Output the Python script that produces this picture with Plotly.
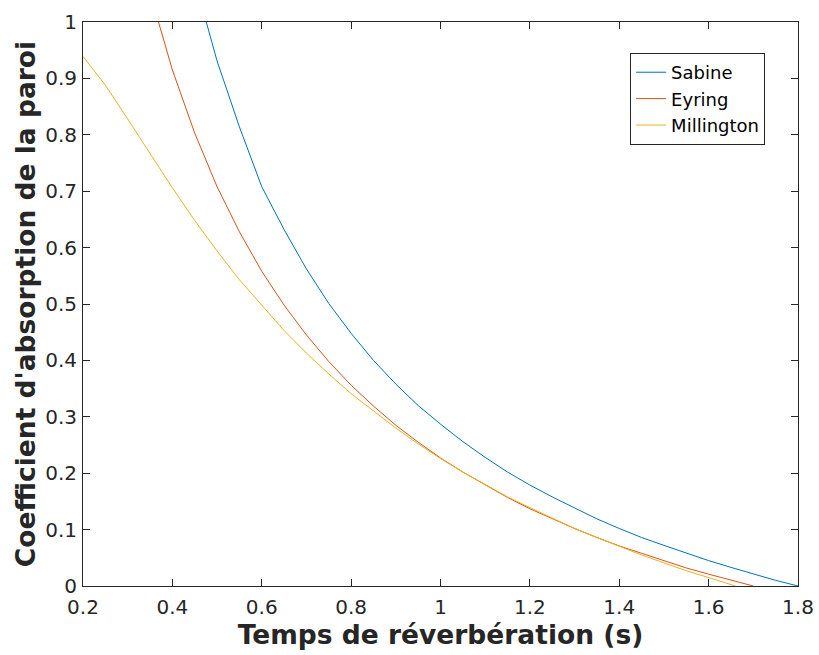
import plotly.graph_objects as go

# Reverberation time (s)
t_sabine = [0.45, 0.50, 0.55, 0.60, 0.65, 0.70, 0.75, 0.80, 0.85, 0.90, 0.95, 1.00,
            1.05, 1.10, 1.15, 1.20, 1.25, 1.30, 1.35, 1.40, 1.45, 1.50, 1.55, 1.60,
            1.65, 1.70, 1.75, 1.80]
a_sabine = [1.074, 0.931, 0.814, 0.708, 0.632, 0.562, 0.501, 0.448, 0.400, 0.358, 0.320, 0.287,
            0.256, 0.228, 0.202, 0.179, 0.158, 0.138, 0.119, 0.102, 0.086, 0.072, 0.058, 0.045,
            0.033, 0.021, 0.010, 0.000]

t_eyring = [0.35, 0.40, 0.45, 0.50, 0.55, 0.60, 0.65, 0.70, 0.75, 0.80, 0.85, 0.90, 0.95,
            1.00, 1.05, 1.10, 1.15, 1.20, 1.25, 1.30, 1.35, 1.40, 1.45, 1.50, 1.55, 1.60,
            1.65, 1.70]
a_eyring = [1.052, 0.915, 0.803, 0.708, 0.628, 0.558, 0.498, 0.445, 0.398, 0.356, 0.319, 0.285, 0.255,
            0.227, 0.202, 0.179, 0.157, 0.137, 0.119, 0.102, 0.086, 0.071, 0.058, 0.045, 0.032, 0.021,
            0.010, 0.000]

t_millington = [0.20, 0.25, 0.30, 0.35, 0.40, 0.45, 0.50, 0.55, 0.60, 0.65, 0.70, 0.75, 0.80,
                0.85, 0.90, 0.95, 1.00, 1.05, 1.10, 1.15, 1.20, 1.25, 1.30, 1.35, 1.40, 1.45,
                1.50, 1.55, 1.60, 1.65, 1.66]
a_millington = [0.939, 0.888, 0.828, 0.766, 0.706, 0.648, 0.594, 0.543, 0.497, 0.453, 0.413, 0.376, 0.341,
                0.310, 0.280, 0.252, 0.226, 0.202, 0.180, 0.158, 0.139, 0.120, 0.102, 0.086, 0.070, 0.055,
                0.041, 0.027, 0.015, 0.003, 0.000]

x_ticks = [0.2, 0.4, 0.6, 0.8, 1.0, 1.2, 1.4, 1.6, 1.8]
x_labels = ["0.2", "0.4", "0.6", "0.8", "1", "1.2", "1.4", "1.6", "1.8"]
y_ticks = [0, 0.1, 0.2, 0.3, 0.4, 0.5, 0.6, 0.7, 0.8, 0.9, 1.0]
y_labels = ["0", "0.1", "0.2", "0.3", "0.4", "0.5", "0.6", "0.7", "0.8", "0.9", "1"]

fig = go.Figure()
fig.add_trace(go.Scatter(x=t_sabine, y=a_sabine, mode="lines", name="Sabine",
                         line=dict(color="#0072BD", width=1)))
fig.add_trace(go.Scatter(x=t_eyring, y=a_eyring, mode="lines", name="Eyring",
                         line=dict(color="#D95319", width=1)))
fig.add_trace(go.Scatter(x=t_millington, y=a_millington, mode="lines", name="Millington",
                         line=dict(color="#EDB120", width=1)))

axis_common = dict(
    showline=True, linecolor="#262626", linewidth=1, mirror="ticks",
    ticks="inside", ticklen=7, tickcolor="#262626", tickwidth=1,
    showgrid=False, zeroline=False, automargin=False,
    tickfont=dict(family="DejaVu Sans", size=20, color="#262626"),
)

fig.update_layout(
    width=819, height=655,
    margin=dict(l=83, r=21, t=22, b=69),
    paper_bgcolor="white", plot_bgcolor="white",
    xaxis=dict(range=[0.2, 1.8], tickvals=x_ticks, ticktext=x_labels, ticklabelstandoff=3,
               title=dict(text="Temps de réverbération (s)", standoff=5,
                          font=dict(family="DejaVu Sans", size=26.5, color="#262626", weight="bold")),
               **axis_common),
    yaxis=dict(range=[0, 1], tickvals=y_ticks, ticktext=y_labels, ticklabelstandoff=1,
               title=dict(text="Coefficient d'absorption de la paroi", standoff=1,
                          font=dict(family="DejaVu Sans", size=26.5, color="#262626", weight="bold")),
               **axis_common),
    legend=dict(x=0.954, y=0.945, xanchor="right", yanchor="top",
                bgcolor="white", bordercolor="#262626", borderwidth=1,
                font=dict(family="DejaVu Sans", size=18, color="#000000"),
                tracegroupgap=0, itemwidth=30),
    showlegend=True,
)

fig.write_html("out.html")
